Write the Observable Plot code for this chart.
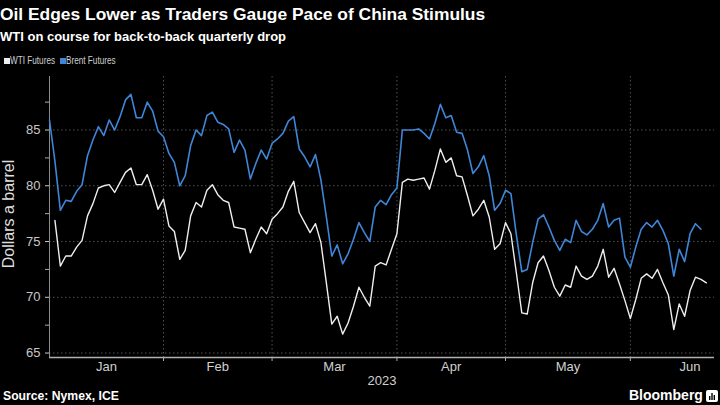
<!DOCTYPE html>
<html><head><meta charset="utf-8">
<script src="https://cdn.jsdelivr.net/npm/d3@7"></script>
<script src="https://cdn.jsdelivr.net/npm/@observablehq/plot@0.6"></script>
<style>
html,body{margin:0;padding:0;background:#000;}
#root{position:relative;width:720px;height:405px;overflow:hidden;background:#000;font-family:"Liberation Sans",Arial,sans-serif;color:#fff;}
.abs{position:absolute;white-space:nowrap;line-height:1;}
#title{left:0;top:6px;font-size:17.4px;font-weight:bold;}
#subtitle{left:0;top:30px;font-size:13px;font-weight:bold;}
#legend{left:0;top:55px;width:200px;height:12px;font-size:10.5px;color:#d0d0d0;}
#legend .sw{position:absolute;top:2.5px;width:6px;height:6px;}
#legend .lt{position:absolute;top:0;display:inline-block;white-space:nowrap;line-height:1;transform:scaleX(0.78);transform-origin:0 50%;}
#ylabel{left:9px;top:214px;transform:translate(-50%,-50%) rotate(-90deg);font-size:16px;color:#ddd;}
#chart{position:absolute;left:0;top:70px;}
#source{left:3px;top:390px;font-size:12.2px;font-weight:bold;color:#fff;}
#brand{left:629px;top:388px;font-size:14px;font-weight:bold;color:#fff;}
#icon{position:absolute;left:706px;top:390px;}
</style>
</head><body>
<div id="root">
  <div id="title" class="abs">Oil Edges Lower as Traders Gauge Pace of China Stimulus</div>
  <div id="subtitle" class="abs">WTI on course for back-to-back quarterly drop</div>
  <div id="legend" class="abs"></div>
  <div id="ylabel" class="abs">Dollars a barrel</div>
  <div id="chart"></div>
  <div id="source" class="abs">Source: Nymex, ICE</div>
  <div id="brand" class="abs">Bloomberg</div>
  <svg id="icon" width="12" height="12" viewBox="0 0 12 12"><rect x="0" y="0" width="12" height="12" rx="2" fill="#fff"/><rect x="3" y="6" width="1.4" height="4" fill="#000"/><rect x="5.3" y="3" width="1.4" height="7" fill="#000"/><rect x="7.6" y="5" width="1.4" height="5" fill="#000"/></svg>
</div>
<script>
// ---- data (one value per weekday slot, starting Mon 2 Jan 2023) ----
const seriesNames = ["WTI Futures", "Brent Futures"];
const seriesColors = ["#eeeeee", "#3f86d8"];
const monthNames = ["Jan", "Feb", "Mar", "Apr", "May", "Jun"];
const yearLabel = "2023";
const yTicks = [65, 70, 75, 80, 85];
const yMinorTicks = [67.5, 72.5, 77.5, 82.5, 87.5];

const wti = [null,
  76.9, 72.8, 73.7, 73.7, 74.5, 75.1, 77.3, 78.4, 79.8, 80.0,
  80.1, 79.4, 80.3, 81.2, 81.6, 80.1, 80.1, 81.0, 79.6, 77.9,
  78.8, 76.4, 75.9, 73.4, 74.2, 77.3, 78.5, 78.1, 79.6, 80.1,
  79.2, 78.7, 78.5, 76.3, 76.2, 76.1, 74.0, 75.2, 76.3, 75.7,
  77.0, 77.5, 78.1, 79.5, 80.4, 77.6, 76.7, 75.8, 76.6, 74.9,
  71.3, 67.6, 68.3, 66.7, 67.7, 69.2, 70.9, 70.0, 69.2, 72.8,
  73.1, 72.9, 74.3, 75.7, 80.3, 80.6, 80.5, 80.6, 80.7, 79.7,
  81.4, 83.3, 82.1, 82.5, 80.9, 80.8, 79.1, 77.3, 77.9, 78.7,
  77.2, 74.3, 74.8, 76.7, 75.7, 72.2, 68.6, 68.5, 71.3, 73.1,
  73.7, 72.4, 70.9, 70.1, 71.1, 70.9, 72.8, 71.9, 71.6, 71.9,
  72.8, 74.3, 71.8, 72.6, 71.2, 69.7, 68.1, 69.8, 71.7, 72.1,
  71.7, 72.5, 71.3, 70.2, 67.1, 69.4, 68.3, 70.6, 71.8, 71.6,
  71.3];

const brent = [85.9,
  82.2, 77.8, 78.7, 78.6, 79.5, 80.1, 82.7, 84.1, 85.3, 84.5,
  85.9, 85.0, 86.2, 87.7, 88.2, 86.1, 86.1, 87.5, 86.7, 84.9,
  84.4, 82.9, 82.1, 80.0, 80.9, 83.6, 85.0, 84.5, 86.3, 86.6,
  85.7, 85.5, 85.1, 83.0, 84.1, 83.2, 80.6, 82.0, 83.2, 82.4,
  83.8, 84.2, 84.7, 85.8, 86.2, 83.3, 82.6, 81.7, 82.8, 80.5,
  77.2, 73.7, 74.7, 73.0, 73.9, 75.2, 76.7, 75.8, 75.0, 78.1,
  78.7, 78.3, 79.2, 79.8, 85.0, 85.0, 85.0, 85.1, 84.7, 84.2,
  85.6, 87.3, 86.1, 86.3, 84.8, 84.7, 83.2, 81.1, 81.7, 82.7,
  80.9, 77.8, 78.4, 79.6, 79.3, 75.6, 72.3, 72.5, 74.9, 77.0,
  77.4, 76.3, 75.1, 74.2, 75.2, 74.9, 76.9, 75.9, 75.6, 76.1,
  76.9, 78.4, 76.3, 76.9, 77.1, 73.6, 72.7, 74.5, 76.1, 76.7,
  76.3, 76.9, 76.0, 74.8, 71.9, 74.3, 73.2, 75.7, 76.6, 76.1];

// ---- weekday axis (Bloomberg-style: one slot per weekday) ----
const axisDays = d3.utcDays(new Date(Date.UTC(2023, 0, 2)), new Date(Date.UTC(2023, 6, 1)))
  .filter(d => d.getUTCDay() !== 0 && d.getUTCDay() !== 6);
const monthEnds = [];
axisDays.forEach((d, i) => {
  const next = axisDays[i + 1];
  if (!next || next.getUTCMonth() !== d.getUTCMonth()) monthEnds.push(i);
});
const gridIdx = monthEnds.slice(0, -1);
const monthLabels = monthNames.map((name, k) => ({
  name, mid: ((k === 0 ? 0 : monthEnds[k - 1]) + monthEnds[k]) / 2
}));
const xDomain = [0, 122.5];
const yDomain = [64.6, 89.8];

const wtiRows = wti.map((v, i) => ({i, date: axisDays[i], v}));
const brentRows = brent.map((v, i) => ({i, date: axisDays[i], v}));

// legend (square + condensed label per series)
const legend = document.getElementById("legend");
const legendX = [4, 60];
seriesNames.forEach((n, k) => {
  const sw = document.createElement("span");
  sw.className = "sw";
  sw.style.left = legendX[k] + "px";
  sw.style.background = seriesColors[k];
  const lt = document.createElement("span");
  lt.className = "lt";
  lt.style.left = (legendX[k] + 6) + "px";
  lt.textContent = n;
  legend.appendChild(sw);
  legend.appendChild(lt);
});

const chart = Plot.plot({
  width: 720, height: 335,
  marginLeft: 49, marginRight: 6, marginTop: 6, marginBottom: 48,
  x: {domain: xDomain, axis: null},
  y: {domain: yDomain, axis: null},
  style: {background: "transparent", color: "#ccc", fontFamily: "Liberation Sans, Arial, sans-serif", fontSize: "13px", overflow: "visible"},
  marks: [
    Plot.ruleY(yTicks, {stroke: "#5a5a5a", strokeDasharray: "1.5,2.5", strokeWidth: 0.9}),
    Plot.ruleX(gridIdx, {stroke: "#5a5a5a", strokeDasharray: "1.5,2.5", strokeWidth: 0.9}),
    Plot.ruleX([xDomain[0]], {stroke: "#8a8a8a"}),
    Plot.ruleY([yDomain[0]], {stroke: "#b0b0b0", strokeWidth: 1.3}),
    Plot.axisY(yTicks, {tickSize: 4, tickPadding: 5, fontSize: 13, color: "#c8c8c8", label: null}),
    Plot.axisY(yMinorTicks, {tickSize: 4, tickFormat: () => "", color: "#aaa", label: null}),
    Plot.axisX(gridIdx, {tickSize: 4, tickFormat: () => "", color: "#aaa", label: null}),
    Plot.text(monthLabels, {x: "mid", text: "name", frameAnchor: "bottom", dy: 9, lineAnchor: "middle", fill: "#d0d0d0", fontSize: 13}),
    Plot.text([{x: (xDomain[0] + xDomain[1]) / 2, t: yearLabel}], {x: "x", text: "t", frameAnchor: "bottom", dy: 23, lineAnchor: "middle", fill: "#d0d0d0", fontSize: 13}),
    Plot.line(brentRows, {x: "i", y: "v", stroke: seriesColors[1], strokeWidth: 1.6}),
    Plot.line(wtiRows, {x: "i", y: "v", stroke: seriesColors[0], strokeWidth: 1.4})
  ]
});
document.getElementById("chart").appendChild(chart);
</script>
</body></html>
